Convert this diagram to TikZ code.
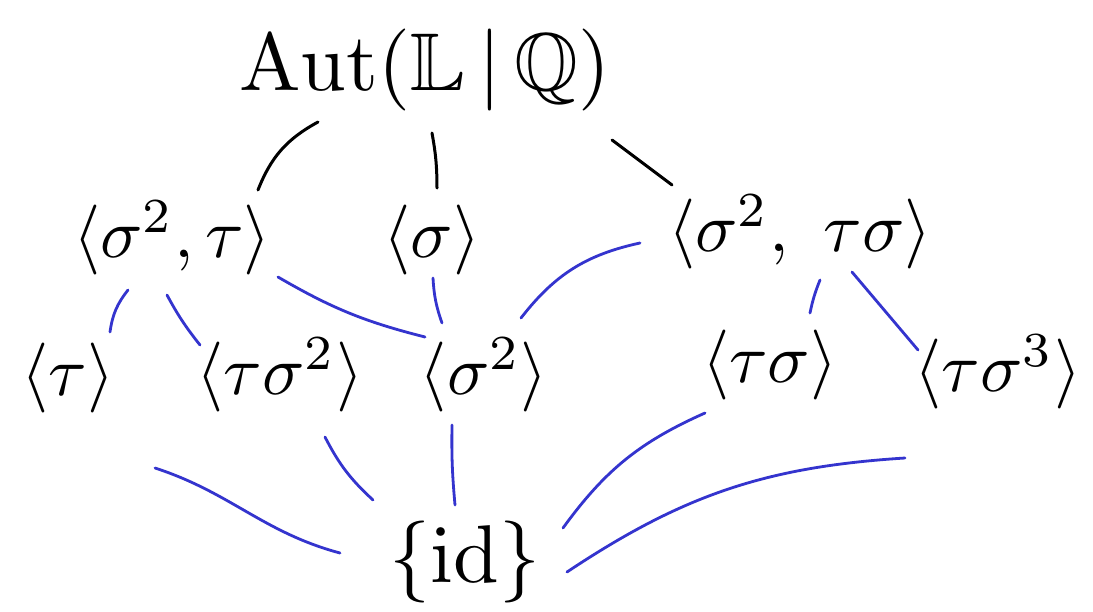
\documentclass[tikz,border=0pt]{standalone}
\usepackage{amssymb}
\usepackage{graphicx}
\definecolor{penblue}{RGB}{52,52,206}
\newcommand{\lbltext}[1]{\scalebox{7}{$#1$}}
\newcommand{\bigtext}[1]{\scalebox{8.2}{$#1$}}
\tikzset{
  lbl/.style={inner sep=0pt},
  blk/.style={draw=black, line width=3pt, line cap=round},
  blu/.style={draw=penblue, line width=2.8pt, line cap=round}
}
\begin{document}
\begin{tikzpicture}[x=1pt,y=-1pt]
\useasboundingbox[fill=white] (0,0) rectangle (1093,611);
% nodes
\node[lbl] (aut) at (425,70) {\bigtext{\mathrm{Aut}(\mathbb{L}\,|\,\mathbb{Q})}};
\node[lbl] (g1) at (172,238) {\lbltext{\langle\sigma^2,\tau\rangle}};
\node[lbl] (g2) at (432,240) {\lbltext{\langle\sigma\rangle}};
\node[lbl] (g3) at (800,232) {\lbltext{\langle\sigma^2,\ \tau\sigma\rangle}};
\node[lbl] (h1) at (68,378) {\lbltext{\langle\tau\rangle}};
\node[lbl] (h2) at (280,375) {\lbltext{\langle\tau\sigma^2\rangle}};
\node[lbl] (h3) at (484,375) {\lbltext{\langle\sigma^2\rangle}};
\node[lbl] (h4) at (770,365) {\lbltext{\langle\tau\sigma\rangle}};
\node[lbl] (h5) at (998,372) {\lbltext{\langle\tau\sigma^3\rangle}};
\node[lbl] (id) at (465,562) {\bigtext{\{\mathrm{id}\}}};
% black connectors
\draw[blk] ([shift={(-107,52)}]aut.center) to[bend right=20] ([shift={(86,-48)}]g1.center);
\draw[blk] ([shift={(7,63)}]aut.center) to[bend left=5] ([shift={(5,-52)}]g2.center);
\draw[blk] ([shift={(187,70)}]aut.center) -- ([shift={(-128,-47)}]g3.center);
% blue connectors, second to third row
\draw[blu] ([shift={(-44,52)}]g1.center) to[bend right=15] ([shift={(42,-46)}]h1.center);
\draw[blu] ([shift={(-5,57)}]g1.center) to[bend right=5] ([shift={(-80,-30)}]h2.center);
\draw[blu] ([shift={(106,39)}]g1.center) to[bend right=8] ([shift={(-59,-38)}]h3.center);
\draw[blu] ([shift={(1,38)}]g2.center) to[bend right=8] ([shift={(-42,-52)}]h3.center);
\draw[blu] ([shift={(-160,11)}]g3.center) to[bend right=20] ([shift={(37,-57)}]h3.center);
\draw[blu] ([shift={(20,48)}]g3.center) to[bend right=5] ([shift={(40,-52)}]h4.center);
\draw[blu] ([shift={(52,40)}]g3.center) -- ([shift={(-80,-22)}]h5.center);
% blue connectors, third row to {id}
\draw[blu] ([shift={(87,90)}]h1.center) to[out=-18,in=165] ([shift={(-125,-9)}]id.center);
\draw[blu] ([shift={(45,62)}]h2.center) to[bend right=10] ([shift={(-92,-62)}]id.center);
\draw[blu] ([shift={(-32,50)}]h3.center) to[bend right=3] ([shift={(-10,-57)}]id.center);
\draw[blu] ([shift={(-65,48)}]h4.center) to[bend right=15] ([shift={(98,-34)}]id.center);
\draw[blu] ([shift={(-93,86)}]h5.center) to[bend right=15] ([shift={(102,10)}]id.center);
\end{tikzpicture}
\end{document}
